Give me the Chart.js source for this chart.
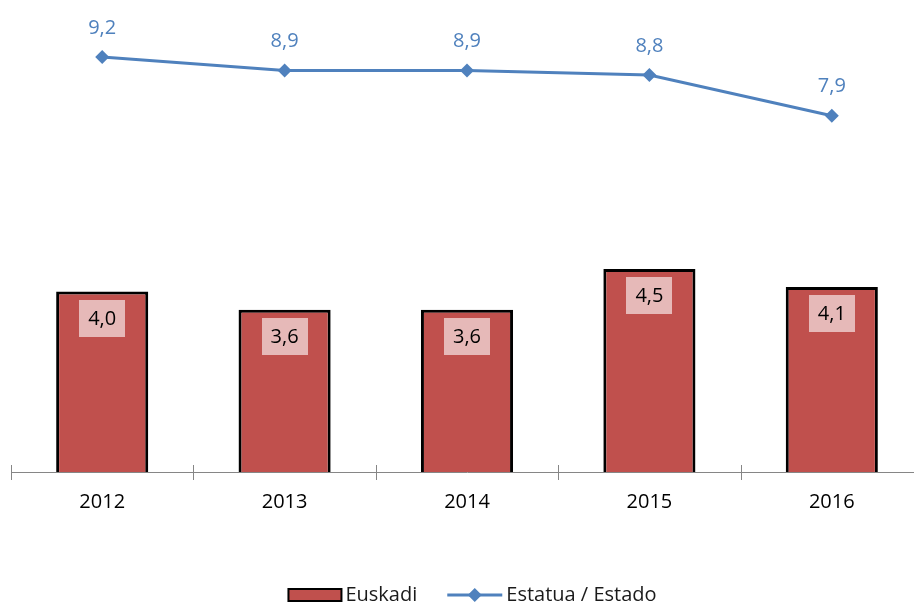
<!DOCTYPE html>
<html>
<head>
<meta charset="utf-8">
<script src="https://cdn.jsdelivr.net/npm/chart.js@4.4.1/dist/chart.umd.min.js"></script>
<style>
  html, body { margin: 0; padding: 0; background: #ffffff; overflow: hidden; }
  #wrap { width: 930px; height: 606px; }
</style>
</head>
<body>
<div id="wrap"><canvas id="chart" width="930" height="606"></canvas></div>
<script>
// Categories and series
const years = ['2012', '2013', '2014', '2015', '2016'];
const euskadi = [4.0, 3.6, 3.6, 4.5, 4.1];
const estado = [9.2, 8.9, 8.9, 8.8, 7.9];
const seriesNames = ['Euskadi', 'Estatua / Estado'];

const BAR_COLOR = '#C0504D';
const LINE_COLOR = '#4F81BD';
const LABEL_BOX = '#E6B9B8';
const AXIS_COLOR = '#868686';
const FONT = '"Open Sans", "Liberation Sans", sans-serif';

const fmt = v => v.toFixed(1).replace('.', ',');

// Value labels, category tick marks and the legend
const decorations = {
  id: 'decorations',
  afterDatasetsDraw(chart) {
    const ctx = chart.ctx;
    const area = chart.chartArea;
    const xs = chart.scales.x;
    ctx.save();

    // tick marks crossing the axis at the category boundaries
    ctx.strokeStyle = AXIS_COLOR;
    ctx.lineWidth = 1;
    const step = xs.getPixelForValue(1) - xs.getPixelForValue(0);
    for (let i = 0; i <= years.length; i++) {
      const x = Math.round(xs.getPixelForValue(0) - step / 2 + i * step) + 0.5;
      ctx.beginPath();
      ctx.moveTo(x, area.bottom - 7);
      ctx.lineTo(x, area.bottom + 8);
      ctx.stroke();
    }

    ctx.font = '20px ' + FONT;
    ctx.textAlign = 'center';
    ctx.textBaseline = 'middle';

    // bar labels on a light box near the bar top
    chart.getDatasetMeta(0).data.forEach((bar, i) => {
      const w = 46, h = 37;
      const top = bar.y + 8;
      ctx.fillStyle = LABEL_BOX;
      ctx.fillRect(Math.round(bar.x - w / 2), Math.round(top), w, h);
      ctx.fillStyle = '#000000';
      ctx.fillText(fmt(euskadi[i]), bar.x, top + h / 2 + 1);
    });

    // line labels above the points
    ctx.fillStyle = LINE_COLOR;
    chart.getDatasetMeta(1).data.forEach((pt, i) => {
      ctx.fillText(fmt(estado[i]), pt.x, pt.y - 29);
    });

    // legend
    const ly = 595;
    ctx.font = '20px ' + FONT;
    ctx.textAlign = 'left';
    const w1 = ctx.measureText(seriesNames[0]).width;
    const w2 = ctx.measureText(seriesNames[1]).width;
    const total = 55 + 3 + w1 + 30 + 55 + 4 + w2;
    let x = 472 - total / 2;
    ctx.fillStyle = BAR_COLOR;
    ctx.fillRect(x + 1, ly - 6, 53, 12);
    ctx.strokeStyle = '#000000';
    ctx.lineWidth = 2;
    ctx.strokeRect(x + 1, ly - 6, 53, 12);
    x += 55 + 3;
    ctx.fillStyle = '#1a1a1a';
    ctx.fillText(seriesNames[0], x, ly);
    x += w1 + 30;
    ctx.strokeStyle = LINE_COLOR;
    ctx.lineWidth = 3;
    ctx.beginPath();
    ctx.moveTo(x, ly);
    ctx.lineTo(x + 55, ly);
    ctx.stroke();
    ctx.fillStyle = LINE_COLOR;
    ctx.beginPath();
    ctx.moveTo(x + 27.5, ly - 7);
    ctx.lineTo(x + 34.5, ly);
    ctx.lineTo(x + 27.5, ly + 7);
    ctx.lineTo(x + 20.5, ly);
    ctx.closePath();
    ctx.fill();
    x += 55 + 4;
    ctx.fillStyle = '#1a1a1a';
    ctx.fillText(seriesNames[1], x, ly);

    ctx.restore();
  }
};

new Chart(document.getElementById('chart'), {
  data: {
    labels: years,
    datasets: [
      {
        type: 'bar',
        label: seriesNames[0],
        data: euskadi,
        backgroundColor: BAR_COLOR,
        borderColor: '#000000',
        borderWidth: 3,
        barPercentage: 0.505,
        categoryPercentage: 1,
        order: 2
      },
      {
        type: 'line',
        label: seriesNames[1],
        data: estado,
        borderColor: LINE_COLOR,
        backgroundColor: LINE_COLOR,
        borderWidth: 3,
        tension: 0,
        pointStyle: 'rectRot',
        pointRadius: 7,
        pointHoverRadius: 7,
        pointBorderWidth: 0,
        order: 1
      }
    ]
  },
  options: {
    responsive: false,
    animation: false,
    devicePixelRatio: 1,
    layout: { padding: { left: 11, right: 3, top: 21, bottom: 74 } },
    plugins: {
      legend: { display: false },
      tooltip: { enabled: false }
    },
    scales: {
      x: {
        offset: true,
        grid: { display: false, drawTicks: false },
        border: { display: true, color: AXIS_COLOR, width: 1 },
        ticks: { color: '#000000', font: { family: FONT, size: 20 }, padding: 18 }
      },
      y: {
        display: false,
        min: 0,
        max: 10
      }
    }
  },
  plugins: [decorations]
});
</script>
</body>
</html>
